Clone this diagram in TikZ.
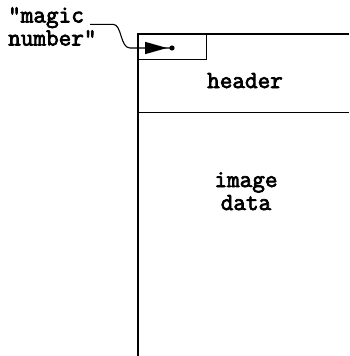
\documentclass[tikz,border=0pt]{standalone}
\usepackage{fontspec}
\setmonofont{Latin Modern Mono}[AutoFakeBold=3]
\begin{document}
\begin{tikzpicture}[x=1pt,y=-1pt,
  frame/.style={line width=1.2pt},
  lbl/.style={font=\ttfamily\bfseries\fontsize{24.5}{23}\selectfont, inner sep=0pt}]
\useasboundingbox (0,0) rectangle (349,356);
% file layout: outer frame and section divider
\draw[frame] (138,356) -- (138,34) -- (349,34);
\draw[frame] (138,112.5) -- (349,112.5);
\node[frame, draw, rectangle, minimum width=68pt, minimum height=25pt, inner sep=0pt, anchor=north west] (mbox) at (138,34) {};
% labels (base anchors of multi-line nodes sit on the last line)
\node[lbl, anchor=base] (header) at (245,88) {header};
\node[lbl, anchor=base, align=center] (data) at (246,210) {image\\data};
\node[lbl, anchor=base west, align=left] (magic) at (8,45.5) {"magic\\number"};
% pointer from the label into the box
\coordinate (start) at (90,24.3);
\coordinate (dot) at (172,48);
\draw[line width=1.1pt] (start) -- (113,24.3) .. controls (122,24.3) and (120,48) .. (130,48) -- (dot);
\fill (145,41.8) -- (167,48) -- (145,54.2) -- cycle;
\fill (dot) circle (2.6);
\end{tikzpicture}
\end{document}
